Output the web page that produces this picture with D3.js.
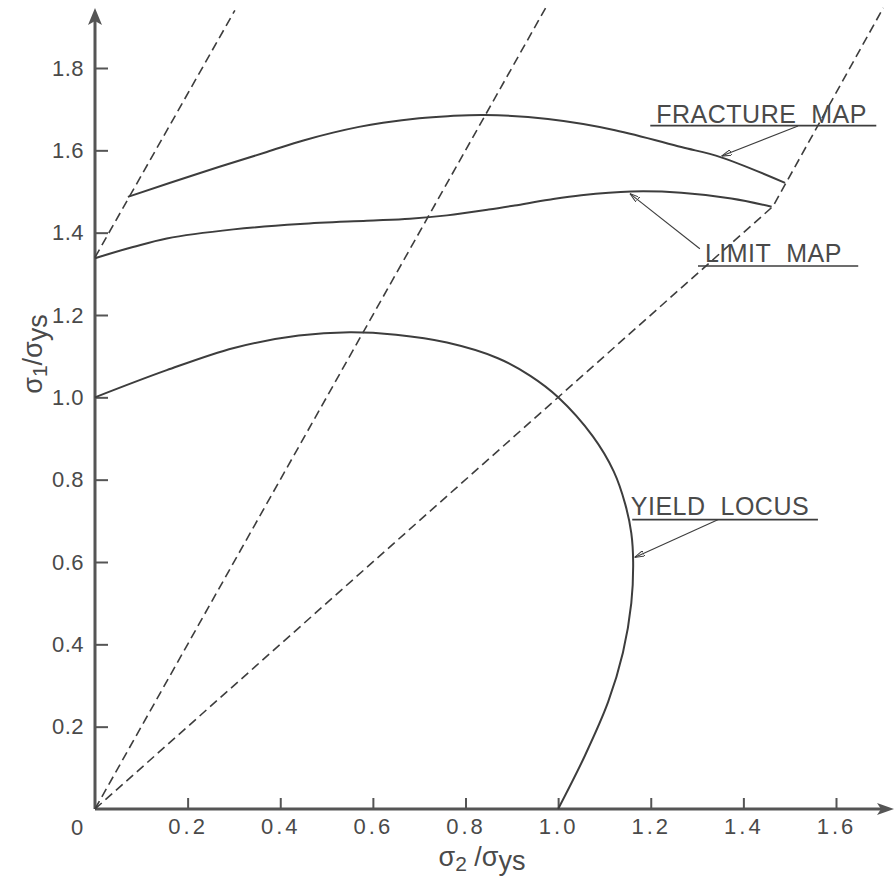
<!DOCTYPE html>
<html>
<head>
<meta charset="utf-8">
<script src="https://cdn.jsdelivr.net/npm/d3@7"></script>
<style>
    body { margin: 0; background: #fff; }
    svg { display: block; }
    text { font-family: "Liberation Sans", Arial, sans-serif; fill: #4a4a4a; }
</style>
</head>
<body>
<div id="chart-area"></div>
<script>

// tick values on both axes
const xTickValues = [0.2, 0.4, 0.6, 0.8, 1.0, 1.2, 1.4, 1.6];
const yTickValues = [0.2, 0.4, 0.6, 0.8, 1.0, 1.2, 1.4, 1.6, 1.8];

// curves, [sigma2/sigma_ys, sigma1/sigma_ys]
const yieldLocus = [
    [0, 1.0], [0.155, 1.066], [0.30, 1.12], [0.44, 1.150], [0.55, 1.158],
    [0.65, 1.152], [0.76, 1.133], [0.87, 1.095], [0.94, 1.052], [1.0, 1.0],
    [1.075, 0.905], [1.12, 0.82], [1.145, 0.74], [1.158, 0.67], [1.162, 0.6],
    [1.158, 0.5], [1.14, 0.38], [1.108, 0.26], [1.058, 0.13], [1.0, 0]
];

const limitMap = [
    [0, 1.338], [0.082, 1.365], [0.155, 1.386], [0.299, 1.408], [0.443, 1.421],
    [0.587, 1.429], [0.68, 1.434], [0.76, 1.442], [0.85, 1.456], [0.906, 1.466],
    [0.98, 1.48], [1.05, 1.491], [1.158, 1.50], [1.266, 1.497], [1.374, 1.483],
    [1.461, 1.463]
];

const fractureMap = [
    [0.071, 1.487], [0.227, 1.545], [0.371, 1.596], [0.45, 1.624], [0.514, 1.643],
    [0.57, 1.657], [0.622, 1.667], [0.70, 1.678], [0.762, 1.683], [0.842, 1.686],
    [0.978, 1.676], [1.123, 1.649], [1.266, 1.608], [1.352, 1.583], [1.49, 1.521]
];

// dashed strain-path lines
const pathA = [[0, 1.34], [0.302, 1.94]];
const pathB = [[0, 0], [0.973, 1.946]];
const pathC = [[0, 0], [1.464, 1.464], [1.702, 1.946]];

// labels with leader lines: text start, underline, leader start, arrow tip
const labels = [
    { text: 'FRACTURE\u00a0\u00a0MAP', at: [1.212, 1.667], line: [1.199, 1.687, 1.660], from: [1.518, 1.659], to: [1.353, 1.586] },
    { text: 'LIMIT\u00a0\u00a0MAP', at: [1.317, 1.329], line: [1.302, 1.648, 1.319], from: [1.306, 1.361], to: [1.155, 1.495] },
    { text: 'YIELD\u00a0\u00a0LOCUS', at: [1.157, 0.714], line: [1.160, 1.561, 0.703], from: [1.346, 0.703], to: [1.165, 0.611] }
];

window.addEventListener('DOMContentLoaded', (event) => {

    const width = 896;
    const height = 877;

    const svg = d3.select('#chart-area')
        .append('svg')
        .attr('width', width)
        .attr('height', height);

    const x = d3.scaleLinear()
        .domain([0, 1.6])
        .range([95, 836]);

    const y = d3.scaleLinear()
        .domain([0, 1.8])
        .range([809, 68]);

    const ink = '#3d3d3d';

    // leader arrow
    svg.append('defs').append('marker')
        .attr('id', 'leader-arrow')
        .attr('viewBox', '0 0 10 6')
        .attr('refX', 10)
        .attr('refY', 3)
        .attr('markerWidth', 10)
        .attr('markerHeight', 6)
        .attr('markerUnits', 'userSpaceOnUse')
        .attr('orient', 'auto')
        .append('path')
            .attr('d', 'M0,0 L10,3 L0,6 Z')
            .attr('fill', 'none')
            .attr('stroke', ink)
            .attr('stroke-width', 1);

    // axes, ticks pointing inward
    const leftAxisCall = d3.axisLeft(y)
        .tickValues(yTickValues)
        .tickSizeInner(-13)
        .tickSizeOuter(0)
        .tickPadding(11)
        .tickFormat(d3.format('.1f'));

    const bottomAxisCall = d3.axisBottom(x)
        .tickValues(xTickValues)
        .tickSizeInner(-11)
        .tickSizeOuter(0)
        .tickPadding(9)
        .tickFormat(d3.format('.1f'));

    const yAxis = svg.append('g')
        .attr('class', 'axis left')
        .attr('transform', `translate(${x(0)},0)`)
        .call(leftAxisCall);

    const xAxis = svg.append('g')
        .attr('class', 'axis bottom')
        .attr('transform', `translate(0,${y(0)})`)
        .call(bottomAxisCall);

    svg.selectAll('.axis .domain').remove();
    svg.selectAll('.axis line')
        .attr('stroke', '#555')
        .attr('stroke-width', 2);
    yAxis.selectAll('text')
        .attr('font-size', 22)
        .attr('letter-spacing', 0.5)
        .attr('fill', '#4a4a4a');
    xAxis.selectAll('text')
        .attr('font-size', 22)
        .attr('letter-spacing', 3)
        .attr('fill', '#4a4a4a');

    svg.append('text')
        .attr('x', x(0) - 18)
        .attr('y', y(0) + 26)
        .attr('text-anchor', 'middle')
        .attr('font-size', 22)
        .text('0');

    // axis lines with arrowheads
    const xEnd = 894;
    const yEnd = 8;
    svg.append('line')
        .attr('x1', x(0)).attr('y1', y(0))
        .attr('x2', x(0)).attr('y2', yEnd + 10)
        .attr('stroke', '#555').attr('stroke-width', 3);
    svg.append('line')
        .attr('x1', x(0)).attr('y1', y(0))
        .attr('x2', xEnd - 10).attr('y2', y(0))
        .attr('stroke', '#555').attr('stroke-width', 3);
    svg.append('path')
        .attr('d', `M${x(0)},${yEnd} L${x(0) - 7},${yEnd + 17} L${x(0)},${yEnd + 13} L${x(0) + 7},${yEnd + 17} Z`)
        .attr('fill', '#555');
    svg.append('path')
        .attr('d', `M${xEnd},${y(0)} L${xEnd - 17},${y(0) - 6} L${xEnd - 13},${y(0)} L${xEnd - 17},${y(0) + 6} Z`)
        .attr('fill', '#555');

    // axis titles
    const xTitle = svg.append('text')
        .attr('x', 482)
        .attr('y', 866)
        .attr('text-anchor', 'middle')
        .attr('font-size', 27);
    xTitle.append('tspan').text('σ');
    xTitle.append('tspan').attr('dy', 5).attr('font-size', 21).text('2');
    xTitle.append('tspan').attr('dy', -5).text(' /σ');
    xTitle.append('tspan').attr('dy', 4).text('ys');

    const yTitle = svg.append('text')
        .attr('transform', 'translate(42,354) rotate(-90)')
        .attr('text-anchor', 'middle')
        .attr('font-size', 27);
    yTitle.append('tspan').text('σ');
    yTitle.append('tspan').attr('dy', 5).attr('font-size', 21).text('1');
    yTitle.append('tspan').attr('dy', -5).text('/σ');
    yTitle.append('tspan').attr('dy', 5).text('ys');

    // dashed lines
    const straight = d3.line()
        .x((d) => x(d[0]))
        .y((d) => y(d[1]));

    svg.selectAll('.strain-path')
        .data([pathA, pathB, pathC])
        .enter()
        .append('path')
            .attr('class', 'strain-path')
            .attr('d', straight)
            .attr('fill', 'none')
            .attr('stroke', ink)
            .attr('stroke-width', 1.6)
            .attr('stroke-dasharray', '9,5');

    // solid curves
    const smooth = d3.line()
        .x((d) => x(d[0]))
        .y((d) => y(d[1]))
        .curve(d3.curveCatmullRom.alpha(0.5));

    svg.selectAll('.curve')
        .data([yieldLocus, limitMap, fractureMap])
        .enter()
        .append('path')
            .attr('class', 'curve')
            .attr('d', smooth)
            .attr('fill', 'none')
            .attr('stroke', ink)
            .attr('stroke-width', 2);

    // labels
    labels.forEach((l) => {
        svg.append('text')
            .attr('x', x(l.at[0]))
            .attr('y', y(l.at[1]))
            .attr('font-size', 25)
            .attr('letter-spacing', 0.5)
            .attr('fill', '#444')
            .text(l.text);
        svg.append('line')
            .attr('x1', x(l.line[0])).attr('x2', x(l.line[1]))
            .attr('y1', y(l.line[2])).attr('y2', y(l.line[2]))
            .attr('stroke', ink)
            .attr('stroke-width', 1.6);
        svg.append('line')
            .attr('x1', x(l.from[0])).attr('y1', y(l.from[1]))
            .attr('x2', x(l.to[0])).attr('y2', y(l.to[1]))
            .attr('stroke', ink)
            .attr('stroke-width', 1.1)
            .attr('marker-end', 'url(#leader-arrow)');
    });

});
</script>
</body>
</html>
